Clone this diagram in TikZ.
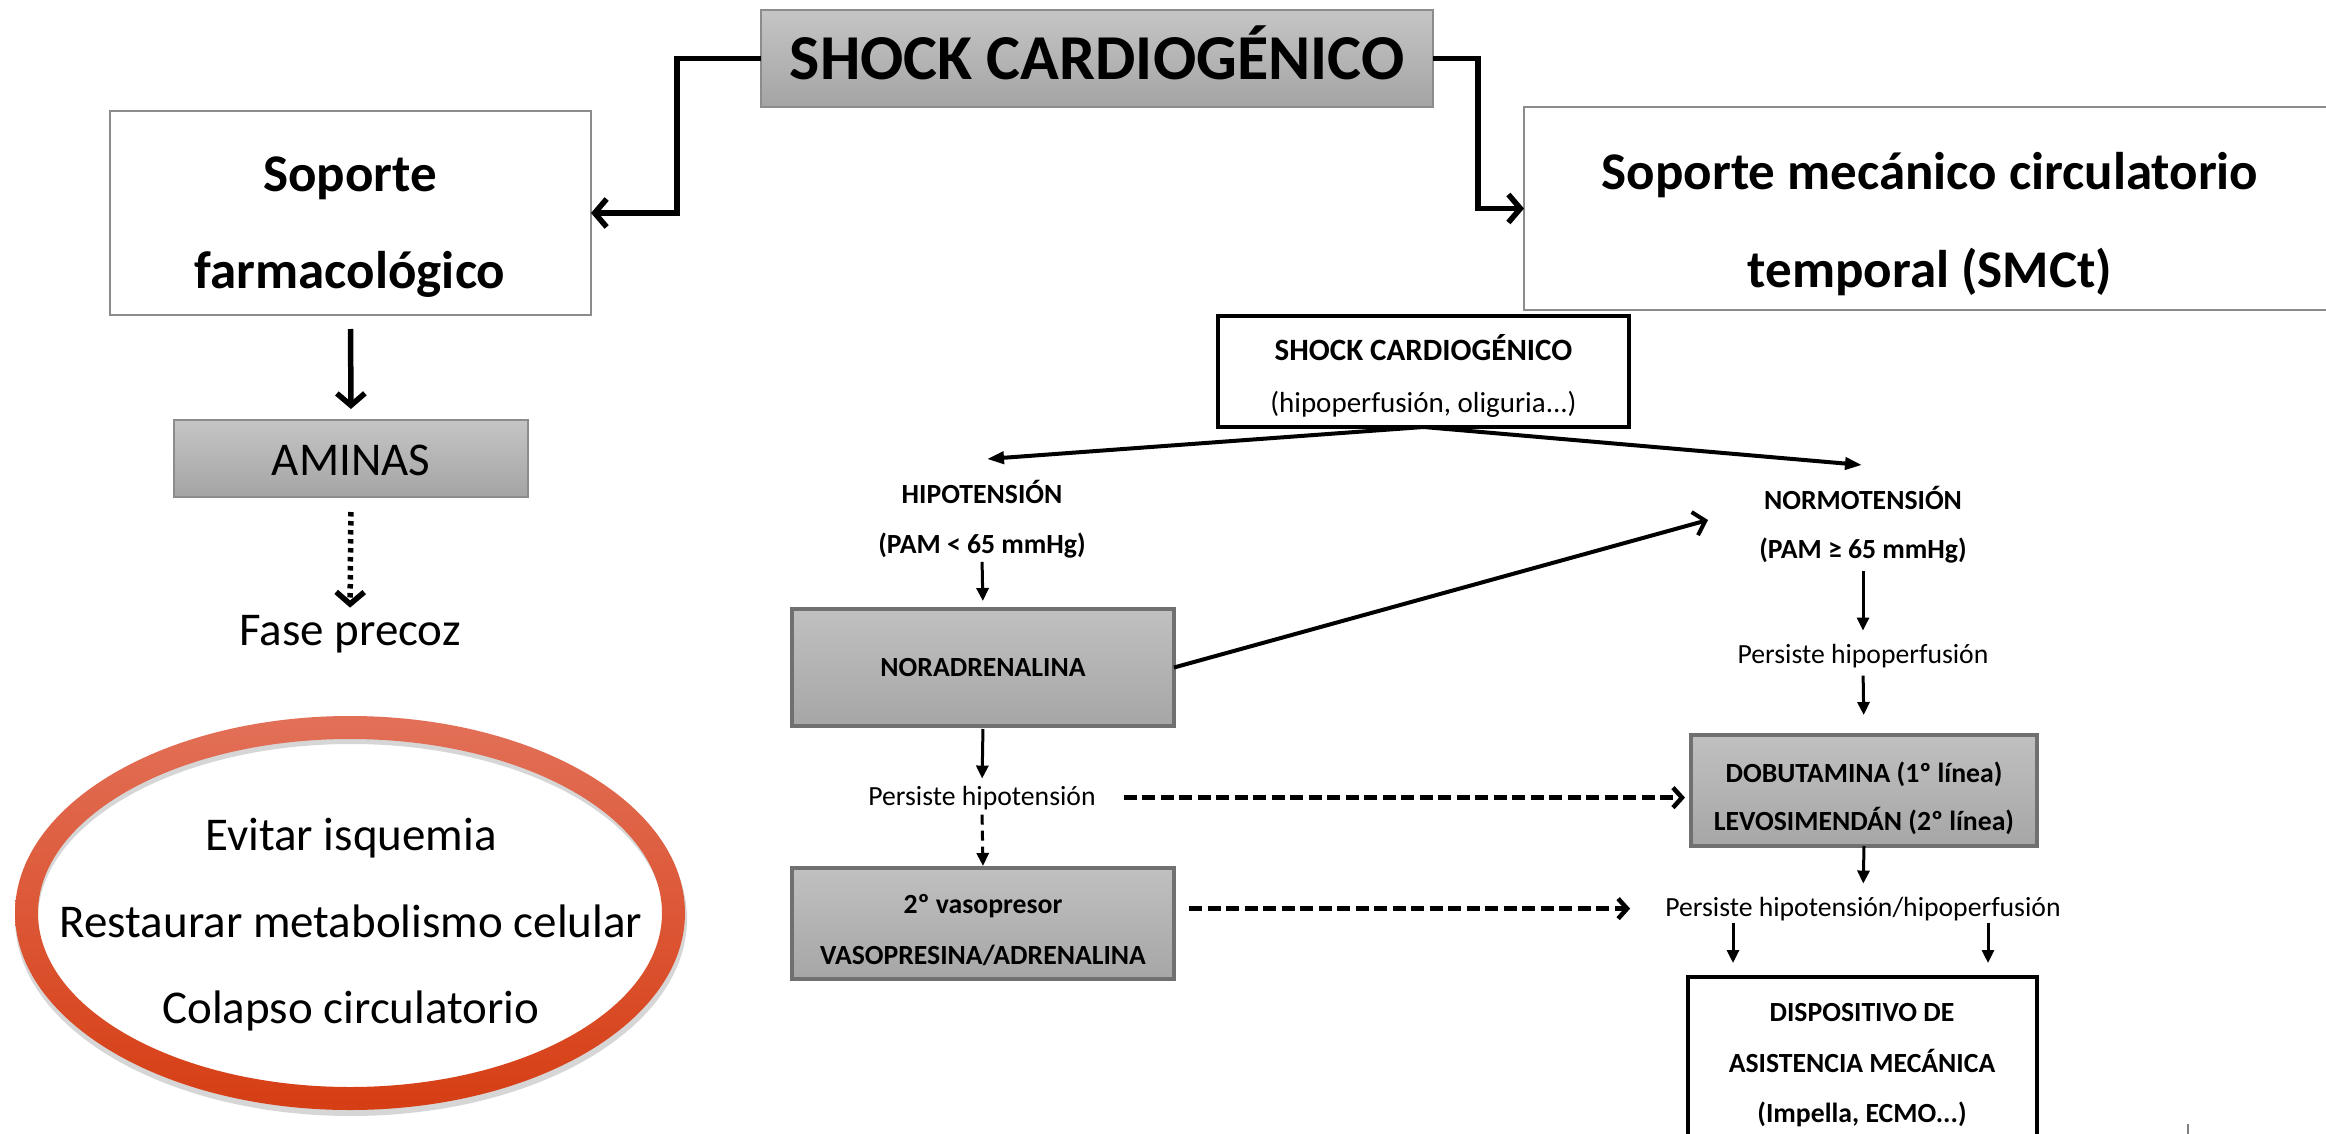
\documentclass[tikz,border=0pt]{standalone}
\usepackage{fontspec}
\setmainfont{Carlito}
\usetikzlibrary{arrows.meta,calc}

\definecolor{gtop}{RGB}{197,197,197}
\definecolor{gbot}{RGB}{164,164,164}
\definecolor{bordgray}{RGB}{140,140,140}
\definecolor{stop}{RGB}{192,192,192}
\definecolor{sbot}{RGB}{166,166,166}
\definecolor{sbord}{RGB}{112,112,112}
\definecolor{ringtop}{RGB}{226,112,88}
\definecolor{ringbot}{RGB}{214,62,20}

\begin{document}
\begin{tikzpicture}[x=1pt,y=-1pt,
  greybig/.style={draw=bordgray, line width=2pt, top color=gtop, bottom color=gbot, inner sep=0pt, outer sep=0pt},
  whitebig/.style={draw=bordgray, line width=2.5pt, fill=white, inner sep=0pt, outer sep=0pt},
  greysmall/.style={draw=sbord, line width=3.5pt, top color=stop, bottom color=sbot, inner sep=0pt, outer sep=0pt},
  blacksmall/.style={draw=black, line width=4pt, fill=white, inner sep=0pt, outer sep=0pt},
  txt/.style={anchor=base, inner sep=0pt},
  hugebold/.style={txt, font=\fontsize{64}{70}\selectfont\bfseries},
  bigbold/.style={txt, font=\fontsize{53}{60}\selectfont\bfseries},
  bigreg/.style={txt, font=\fontsize{47}{54}\selectfont},
  sm/.style={txt, font=\fontsize{27.7}{33}\selectfont},
  smb/.style={txt, font=\fontsize{27.7}{33}\selectfont\bfseries},
  toparr/.style={line width=5.5pt, -{Straight Barb[length=12pt,width=28pt]}},
  dotarr/.style={line width=5.5pt, dash pattern=on 4.5pt off 4.5pt, -{Straight Barb[length=12pt,width=28pt]}},
  diagarr/.style={line width=4pt, -{Triangle[length=17pt,width=12pt]}},
  openarr/.style={line width=4pt, -{Straight Barb[length=11pt,width=24pt]}},
  smarr/.style={line width=3pt, -{Triangle[length=13pt,width=12pt]}},
  dasharr/.style={line width=4.5pt, dash pattern=on 13pt off 5.5pt, -{Straight Barb[length=9pt,width=20pt]}},
  vdasharr/.style={line width=3pt, dash pattern=on 10pt off 6pt, -{Triangle[length=13pt,width=12pt]}}
]
\clip (0,0) rectangle (2326,1134);
\fill[white] (0,0) rectangle (2326,1134);

% ---------- top level ----------
\node[greybig, minimum width=672pt, minimum height=97pt] (title) at (1097,58.5) {};
\node[hugebold] (titletxt) at (1097,80) {SHOCK CARDIOGÉNICO};

\node[whitebig, minimum width=481pt, minimum height=204pt] (farm) at (350.5,213) {};
\node[bigbold] (farm1) at (350,192) {Soporte};
\node[bigbold] (farm2) at (350,288) {farmacológico};

\node[whitebig, minimum width=812pt, minimum height=203pt] (smct) at (1930,208.5) {};
\node[bigbold] (smct1) at (1930,190) {Soporte mecánico circulatorio};
\node[bigbold] (smct2) at (1930,287) {temporal (SMCt)};

\draw[toparr] (title.west) -- ++(-84,0) |- (farm.east);
\draw[toparr] (title.east) -- ++(45,0) |- (smct.west);

% ---------- pharmacological branch ----------
\node[greybig, minimum width=354pt, minimum height=77pt] (amin) at (351,458.5) {};
\node[bigreg] (amintxt) at (351,475) {AMINAS};
\node[bigreg] (fase) at (350,645) {Fase precoz};

\draw[toparr, shorten <=14pt, shorten >=11pt] (farm.south) -- (amin.north);
\draw[dotarr, shorten <=15pt, shorten >=7pt] (amin.south) -- (fase.north);

% goals ring with its shadow
\path[even odd rule, fill=black, opacity=0.16]
  (351,919) ellipse [x radius=336pt, y radius=197pt]
  (351,919) ellipse [x radius=313pt, y radius=175pt];
\path[even odd rule, top color=ringtop, bottom color=ringbot]
  (350,913) ellipse [x radius=335pt, y radius=197pt]
  (350,913) ellipse [x radius=312pt, y radius=174pt];
\node[bigreg] (goal1) at (351,850) {Evitar isquemia};
\node[bigreg] (goal2) at (351,937) {Restaurar metabolismo celular};
\node[bigreg] (goal3) at (351,1023) {Colapso circulatorio};

% ---------- algorithm ----------
\node[blacksmall, minimum width=411pt, minimum height=111pt] (shock) at (1423.5,371.5) {};
\node[txt, font=\fontsize{31}{36}\selectfont\bfseries] (shock1) at (1423.5,360) {SHOCK CARDIOGÉNICO};
\node[txt, font=\fontsize{29}{34}\selectfont] (shock2) at (1423.5,412) {(hipoperfusión, oliguria...)};

\coordinate (hipoin) at (987,459);
\coordinate (normoin) at (1862,465);
\draw[diagarr] (shock.south) -- (hipoin);
\draw[diagarr] (shock.south) -- (normoin);

\node[smb] (hipo1) at (982,503) {HIPOTENSIÓN};
\node[smb] (hipo2) at (982,553) {(PAM < 65 mmHg)};
\node[smb] (normo1) at (1863,509) {NORMOTENSIÓN};
\node[smb] (normo2) at (1863,558) {(PAM ≥ 65 mmHg)};
\node[sm] (perf) at (1863,663) {Persiste hipoperfusión};

\node[greysmall, minimum width=382pt, minimum height=117pt] (nor) at (983,667.5) {};
\node[smb] (nortxt) at (983,676) {NORADRENALINA};

\node[greysmall, minimum width=346pt, minimum height=111pt] (dobu) at (1864,790.5) {};
\node[smb] (dobu1) at (1864,782) {DOBUTAMINA (1º línea)};
\node[smb] (dobu2) at (1864,830) {LEVOSIMENDÁN (2º línea)};

\node[sm] (hipot) at (982,805) {Persiste hipotensión};

\node[greysmall, minimum width=382pt, minimum height=111pt] (vaso) at (983,923.5) {};
\node[smb] (vaso1) at (983,913) {2º vasopresor};
\node[smb] (vaso2) at (983,964) {VASOPRESINA/ADRENALINA};

\node[sm] (both) at (1863,916) {Persiste hipotensión/hipoperfusión};

\node[blacksmall, minimum width=349pt, minimum height=203pt] (dispo) at (1862.5,1078.5) {};
\node[smb] (dispo1) at (1862,1021) {DISPOSITIVO DE};
\node[smb] (dispo2) at (1862,1072) {ASISTENCIA MECÁNICA};
\node[smb] (dispo3) at (1862,1122) {(Impella, ECMO...)};

\coordinate (normoside) at (1708,520);
\draw[openarr] (nor.east) -- (normoside);

\draw[smarr, shorten <=4pt, shorten >=8pt] (hipo2.south) -- (nor.north);
\draw[smarr, shorten <=8pt, shorten >=13pt] (normo2.south) -- (perf.north);
\draw[smarr, shorten <=8pt, shorten >=20pt] (perf.south) -- (dobu.north);
\draw[smarr, shorten <=3pt, shorten >=7pt] (nor.south) -- (hipot.north);
\draw[dasharr, shorten <=28pt, shorten >=6pt] (hipot.east) -- (hipot.east -| dobu.west);
\draw[vdasharr, shorten <=5pt, shorten >=2pt] (hipot.south) -- (vaso.north);
\draw[dasharr, shorten <=15pt, shorten >=35pt] (vaso.east |- both.west) -- (both.west);
\draw[smarr, shorten >=13pt] (dobu.south) -- (both.north);
\draw[smarr, shorten <=2pt, shorten >=14pt] ([xshift=-130pt]both.south) -- ([xshift=-130pt]both.south |- dispo.north);
\draw[smarr, shorten <=2pt, shorten >=14pt] ([xshift=125pt]both.south) -- ([xshift=125pt]both.south |- dispo.north);

\draw[gray, line width=2pt] (2188,1124) -- (2188,1134);
\end{tikzpicture}
\end{document}
